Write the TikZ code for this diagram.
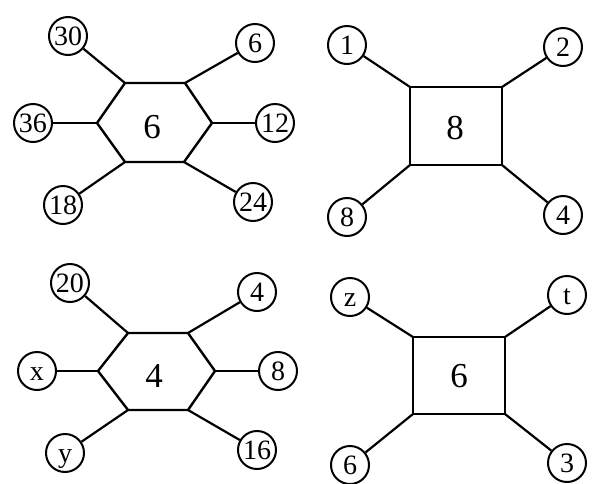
\documentclass[tikz,border=0pt]{standalone}
\usepackage{fontspec}
\setmainfont{Liberation Serif}
\tikzset{
  num/.style={circle, draw, line width=2pt, minimum size=38pt, inner sep=0pt,
    font=\fontsize{28}{28}\selectfont, text height=18.5pt, text depth=0pt},
  centre/.style={font=\fontsize{35}{35}\selectfont, inner sep=0pt},
  outline/.style={line width=2.4pt, line join=miter},
  spoke/.style={line width=2.2pt}
}
\begin{document}
\begin{tikzpicture}[x=1pt,y=-1pt]
\useasboundingbox (0,0) rectangle (598,483);
% ---- top-left hexagon
\coordinate (a1) at (125,83);
\coordinate (a2) at (185,83);
\coordinate (a3) at (212,123);
\coordinate (a4) at (184,162);
\coordinate (a5) at (125,162);
\coordinate (a6) at (97,123);
\draw[outline] (a1) -- (a2) -- (a3) -- (a4) -- (a5) -- (a6) -- cycle;
\node[centre] (ac) at (152,127) {6};
\node[num] (a30) at (68,36) {30};
\node[num] (a6n) at (255,43) {6};
\node[num] (a36) at (33,123) {36};
\node[num] (a12) at (275,123) {12};
\node[num] (a18) at (63,205) {18};
\node[num] (a24) at (253,202) {24};
\draw[spoke] (a30) -- (a1);
\draw[spoke] (a6n) -- (a2);
\draw[spoke] (a36) -- (a6);
\draw[spoke] (a12) -- (a3);
\draw[spoke] (a18) -- (a5);
\draw[spoke] (a24) -- (a4);
% ---- top-right square
\coordinate (b1) at (410,87);
\coordinate (b2) at (502,87);
\coordinate (b3) at (502,165);
\coordinate (b4) at (410,165);
\draw[outline] (b1) -- (b2) -- (b3) -- (b4) -- cycle;
\node[centre] (bc) at (455,128) {8};
\node[num] (b1n) at (347,45) {1};
\node[num] (b2n) at (563,47) {2};
\node[num] (b8n) at (347,217) {8};
\node[num] (b4n) at (563,215) {4};
\draw[spoke] (b1n) -- (b1);
\draw[spoke] (b2n) -- (b2);
\draw[spoke] (b8n) -- (b4);
\draw[spoke] (b4n) -- (b3);
% ---- bottom-left hexagon
\coordinate (c1) at (128,333);
\coordinate (c2) at (188,333);
\coordinate (c3) at (215,371);
\coordinate (c4) at (188,410);
\coordinate (c5) at (128,410);
\coordinate (c6) at (98,371);
\draw[outline] (c1) -- (c2) -- (c3) -- (c4) -- (c5) -- (c6) -- cycle;
\node[centre] (cc) at (154,376) {4};
\node[num] (c20) at (70,283) {20};
\node[num] (c4n) at (257,292) {4};
\node[num] (cx) at (37,371) {x};
\node[num] (c8) at (278,371) {8};
\node[num] (cy) at (65,453) {y};
\node[num] (c16) at (257,450) {16};
\draw[spoke] (c20) -- (c1);
\draw[spoke] (c4n) -- (c2);
\draw[spoke] (cx) -- (c6);
\draw[spoke] (c8) -- (c3);
\draw[spoke] (cy) -- (c5);
\draw[spoke] (c16) -- (c4);
% ---- bottom-right square
\coordinate (d1) at (413,337);
\coordinate (d2) at (505,337);
\coordinate (d3) at (505,414);
\coordinate (d4) at (413,414);
\draw[outline] (d1) -- (d2) -- (d3) -- (d4) -- cycle;
\node[centre] (dc) at (459,376) {6};
\node[num] (dz) at (350,297) {z};
\node[num] (dt) at (567,295) {t};
\node[num] (d6) at (350,465) {6};
\node[num] (d3n) at (567,463) {3};
\draw[spoke] (dz) -- (d1);
\draw[spoke] (dt) -- (d2);
\draw[spoke] (d6) -- (d4);
\draw[spoke] (d3n) -- (d3);
\end{tikzpicture}
\end{document}
